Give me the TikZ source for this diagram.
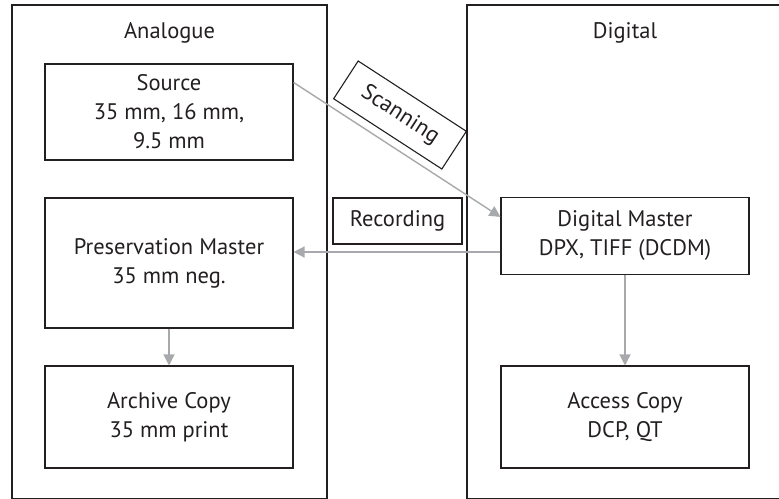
\documentclass[tikz,border=0pt]{standalone}
\usepackage{fontspec}
\setmainfont{PT Sans}
\usetikzlibrary{arrows.meta,positioning}

\definecolor{ink}{HTML}{231F20}
\definecolor{flowgray}{HTML}{A7A9AC}

\begin{document}
\begin{tikzpicture}[%
x=1pt, y=-1pt,
>={Triangle[length=11pt,width=11pt]},
on grid,
font=\fontsize{22.5}{29}\selectfont,
text=ink,
box/.style={draw=ink, line width=1.1pt, minimum width=248pt, align=center, inner sep=0pt},
panel/.style={draw=ink, line width=1.1pt},
flow/.style={->, draw=flowgray, fill=flowgray, line width=1.4pt}
]
\useasboundingbox (0,0) rectangle (779,498);

% the two columns (cut off at the right and the bottom)
\draw[panel] (12,5) rectangle (327,498.8);
\draw[panel] (467,5) rectangle (784,498.8);
\node (ana) at (169.5,33) {Analogue};
\node (dig) at (625,33) {Digital};

% analogue side
\node[box, minimum height=96pt] (src) at (169,112) {Source\\35 mm, 16 mm,\\9.5 mm};
\node[box, minimum height=130pt, below=151pt of src] (pres) {Preservation Master\\35 mm neg.};
\node[box, minimum height=102pt, below=154pt of pres] (arch) {Archive Copy\\35 mm print};

% digital side
\node[box, minimum height=77pt] (dm) at (625,236) {Digital Master\\DPX, TIFF (DCDM)};
\node[box, minimum height=102pt, below=181pt of dm] (acc) {Access Copy\\DCP, QT};

% labels between the columns
\node[box, minimum width=129pt, minimum height=45pt, rotate=-33] (scan) at (400,115) {Scanning};
\node[box, minimum width=129pt, minimum height=46pt] (rec) at (397.5,221) {Recording};

% flows
\draw[flow] ([yshift=-19pt]src.north east) -- ([yshift=-20pt]dm.north west);
\draw[flow] ([yshift=-16pt]dm.west) -- ([yshift=-16pt]dm.west -| pres.east);
\draw[flow] (pres) -- (arch);
\draw[flow] (dm) -- (acc);
\end{tikzpicture}
\end{document}
